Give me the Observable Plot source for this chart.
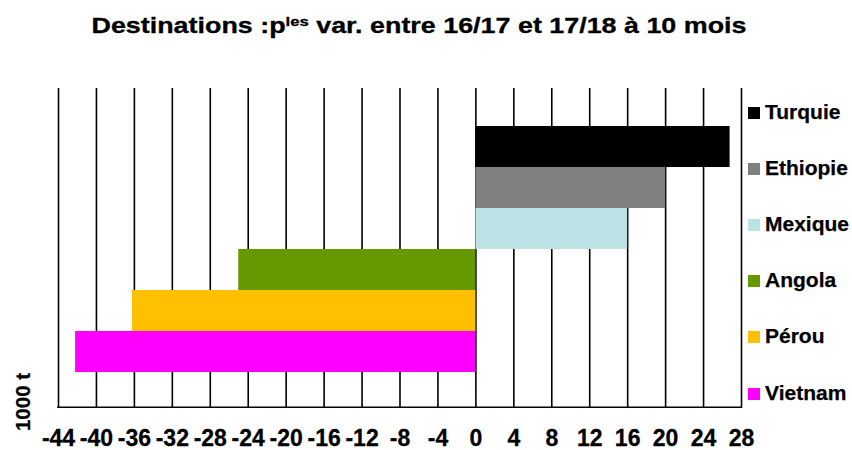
<!DOCTYPE html>
<html>
<head>
<meta charset="utf-8">
<script src="https://cdn.jsdelivr.net/npm/d3@7"></script>
<script src="https://cdn.jsdelivr.net/npm/@observablehq/plot@0.6"></script>
<style>
  html, body { margin: 0; padding: 0; background: #fff; }
  #wrap { position: relative; width: 852px; height: 450px; overflow: hidden;
          font-family: "Liberation Sans", Arial, sans-serif; font-weight: bold; color: #000; }
  #title { position: relative; height: 60px; width: 852px; }
  #title span { position: absolute; left: 419px; top: 14px; font-size: 21.5px; white-space: nowrap;
                transform: translateX(-50%) scaleX(1.25); transform-origin: center; line-height: 24px;
                -webkit-text-stroke: 0.3px #000; }
  #title sup { font-size: 0.62em; vertical-align: 0; position: relative; top: -0.55em; }
  #legend { position: absolute; left: 748px; top: 0; }
  .item { position: absolute; left: 0; display: flex; align-items: baseline; white-space: nowrap;
          font-size: 21px; line-height: 24px; -webkit-text-stroke: 0.25px #000; }
  .sw { display: inline-block; width: 12px; height: 12px; margin-right: 5px; flex: none; }
  #ylab { position: absolute; left: 23px; top: 402px; font-size: 20.5px; white-space: nowrap;
          transform: translate(-50%, -50%) rotate(-90deg); line-height: 22px; -webkit-text-stroke: 0.25px #000; }
</style>
</head>
<body>
<div id="wrap">
  <div id="title"><span>Destinations :p<sup>les</sup> var. entre 16/17 et 17/18 à 10 mois</span></div>
  <div id="chart"></div>
  <div id="legend"></div>
  <div id="ylab">1000 t</div>
</div>
<script>
// Data
const destinations = ["Turquie", "Ethiopie", "Mexique", "Angola", "Pérou", "Vietnam"];
const variations = [26.8, 20.0, 16.0, -25.0, -36.2, -42.2];
const colors = ["#000000", "#808080", "#bce2e6", "#669900", "#ffc000", "#ff00ff"];
const xTicks = [-44, -40, -36, -32, -28, -24, -20, -16, -12, -8, -4, 0, 4, 8, 12, 16, 20, 24, 28];
const unitLabel = "1000 t";

const table = destinations.map((name, i) => ({name, value: variations[i]}));

const svg = Plot.plot({
  width: 852,
  height: 390,
  marginTop: 28,
  marginBottom: 42,
  marginLeft: 58,
  marginRight: 111,
  style: {fontFamily: "'Liberation Sans', Arial, sans-serif", background: "#fff", color: "#000"},
  x: {domain: [xTicks[0], xTicks[xTicks.length - 1]], axis: null},
  y: {domain: destinations, range: [66, 312], padding: 0, axis: null},
  color: {domain: destinations, range: colors},
  marks: [
    Plot.ruleX(xTicks, {stroke: "#000", strokeWidth: 1.6}),
    Plot.barX(table, {x1: 0, x2: "value", y: "name", fill: "name"}),
    Plot.rect([0], {x1: xTicks[0], x2: xTicks[xTicks.length - 1], fill: "#000", insetTop: 318.5, insetLeft: -0.8, insetRight: -0.8}),
    Plot.text(xTicks, {x: d => d, text: d => String(d), frameAnchor: "bottom", lineAnchor: "middle",
                       dy: 30, fontSize: 23, fontWeight: "bold", fill: "#000", stroke: "#000", strokeWidth: 0.3})
  ]
});
document.getElementById("chart").appendChild(svg);

// Legend
const legendBaseline = [119, 175, 231, 287, 343, 400];
const legend = document.getElementById("legend");
destinations.forEach((name, i) => {
  const it = document.createElement("div");
  it.className = "item";
  it.style.top = (legendBaseline[i] - 19) + "px";
  const sw = document.createElement("span");
  sw.className = "sw";
  sw.style.background = colors[i];
  it.appendChild(sw);
  it.appendChild(document.createTextNode(name));
  legend.appendChild(it);
});
document.getElementById("ylab").textContent = unitLabel;
</script>
</body>
</html>
